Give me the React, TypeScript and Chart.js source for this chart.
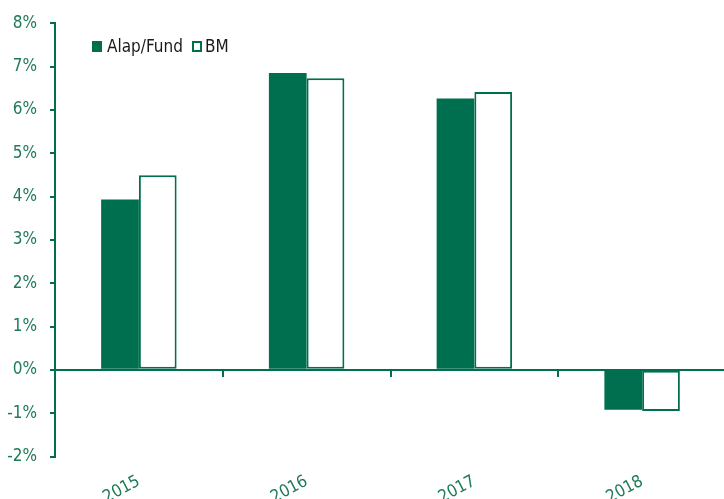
import React, { useEffect, useRef } from "react";
import { Chart, registerables } from "chart.js";

Chart.register(...registerables);

const categories = ["2015", "2016", "2017", "2018"];
const fundValues = [3.93, 6.85, 6.26, -0.92];
const bmValues = [4.49, 6.73, 6.41, -0.95];
const seriesNames = ["Alap/Fund", "BM"];
const yMin = -2;
const yMax = 8;
const yStep = 1;

const GREEN = "#006f4f";
const LABEL_GREEN = "#1f7a57";
const FONT = "'Liberation Sans Narrow', 'DejaVu Sans Condensed', 'Arial Narrow', sans-serif";

export default function App() {
  const ref = useRef<HTMLCanvasElement>(null);

  useEffect(() => {
    if (!ref.current) return;
    const chart = new Chart(ref.current, {
      type: "bar",
      data: {
        labels: categories,
        datasets: [
          {
            label: seriesNames[0],
            data: fundValues,
            backgroundColor: GREEN,
            borderWidth: 0,
            categoryPercentage: 0.45,
            barPercentage: 1,
          },
          {
            label: seriesNames[1],
            data: bmValues,
            backgroundColor: "#ffffff",
            borderColor: GREEN,
            borderWidth: 2,
            borderSkipped: false,
            categoryPercentage: 0.45,
            barPercentage: 1,
          },
        ],
      },
      options: {
        responsive: false,
        animation: false,
        devicePixelRatio: 1,
        layout: { padding: { top: 23, right: 0, left: 0, bottom: 0 } },
        plugins: {
          legend: { display: false },
          tooltip: { enabled: false },
        },
        scales: {
          x: {
            type: "category",
            position: "bottom",
            border: { display: false },
            grid: { display: false, drawTicks: false },
            ticks: {
              autoSkip: false,
              minRotation: 28,
              maxRotation: 28,
              padding: 15,
              color: LABEL_GREEN,
              font: { family: FONT, size: 17 },
            },
            afterFit: (scale: any) => {
              scale.height = 42.5;
            },
          },
          xZero: {
            axis: "x",
            type: "category",
            labels: categories,
            position: { y: 0 },
            offset: true,
            border: { display: true, color: GREEN, width: 2 },
            grid: {
              offset: true,
              drawOnChartArea: false,
              drawTicks: true,
              tickLength: 6,
              color: GREEN,
              lineWidth: 2,
            },
            ticks: { display: false },
          },
          y: {
            min: yMin,
            max: yMax,
            border: { display: true, color: GREEN, width: 2 },
            grid: {
              drawOnChartArea: false,
              drawTicks: true,
              tickLength: 5,
              color: GREEN,
              lineWidth: 2,
            },
            ticks: {
              stepSize: yStep,
              padding: 13,
              color: LABEL_GREEN,
              font: { family: FONT, size: 17 },
              callback: (v: any) => `${v}%`,
            },
            afterFit: (scale: any) => {
              scale.width = 55;
            },
          },
        },
      } as any,
    });
    return () => chart.destroy();
  }, []);

  const legendText: React.CSSProperties = {
    fontFamily: FONT,
    fontSize: 17,
    color: "#1a1a1a",
    lineHeight: "17px",
  };

  return (
    <div
      style={{
        position: "absolute",
        left: 0,
        top: 0,
        width: 724,
        height: 499,
        background: "#ffffff",
        overflow: "hidden",
      }}
    >
      <canvas ref={ref} width={726} height={499} style={{ display: "block" }} />
      <div
        style={{
          position: "absolute",
          left: 92,
          top: 38,
          display: "flex",
          alignItems: "center",
        }}
      >
        <span
          style={{
            display: "inline-block",
            width: 10,
            height: 11,
            background: GREEN,
            marginRight: 5,
          }}
        />
        <span style={legendText}>{seriesNames[0]}</span>
        <span
          style={{
            display: "inline-block",
            boxSizing: "border-box",
            width: 10,
            height: 11,
            border: `2px solid ${GREEN}`,
            marginLeft: 9,
            marginRight: 3,
          }}
        />
        <span style={legendText}>{seriesNames[1]}</span>
      </div>
    </div>
  );
}
